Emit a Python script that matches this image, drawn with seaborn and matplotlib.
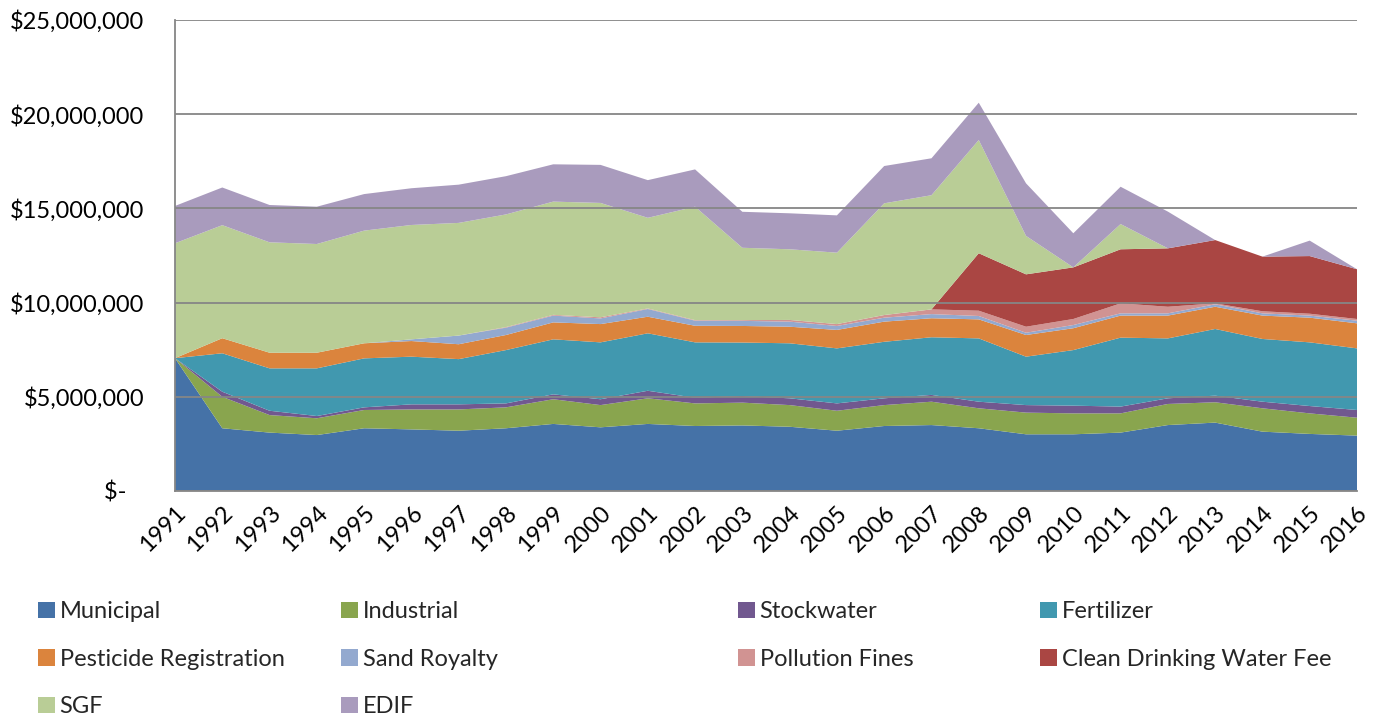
import numpy as np
import pandas as pd
import matplotlib
matplotlib.use("Agg")
import matplotlib.pyplot as plt
import matplotlib.ticker as mticker
from matplotlib.patches import Patch
import seaborn as sns

years = list(range(1991, 2017))

municipal = [7.05, 3.33, 3.10, 2.97, 3.33, 3.27, 3.20, 3.33, 3.56, 3.38, 3.56, 3.45, 3.48,
             3.41, 3.20, 3.45, 3.50, 3.33, 3.01, 3.01, 3.10, 3.50, 3.63, 3.15, 3.03, 2.94]
industrial = [0.00, 1.67, 0.93, 0.89, 0.97, 1.06, 1.13, 1.11, 1.31, 1.18, 1.36, 1.20, 1.21,
              1.15, 1.06, 1.11, 1.24, 1.06, 1.15, 1.11, 1.02, 1.12, 1.08, 1.24, 1.09, 0.95]
stockwater = [0.00, 0.27, 0.23, 0.12, 0.14, 0.27, 0.27, 0.21, 0.26, 0.31, 0.40, 0.30, 0.35,
              0.36, 0.39, 0.36, 0.36, 0.35, 0.40, 0.41, 0.36, 0.30, 0.35, 0.35, 0.39, 0.41]
fertilizer = [0.00, 2.04, 2.25, 2.53, 2.60, 2.53, 2.40, 2.83, 2.92, 3.02, 3.05, 2.94, 2.84,
              2.92, 2.92, 3.00, 3.06, 3.36, 2.57, 2.95, 3.66, 3.18, 3.54, 3.33, 3.38, 3.27]
pesticide = [0.00, 0.80, 0.83, 0.83, 0.80, 0.83, 0.79, 0.80, 0.90, 0.97, 0.88, 0.88, 0.88,
             0.88, 0.98, 1.07, 1.01, 1.01, 1.15, 1.16, 1.17, 1.21, 1.18, 1.24, 1.31, 1.33]
sand = [0.00, 0.00, 0.00, 0.00, 0.00, 0.09, 0.46, 0.39, 0.36, 0.30, 0.41, 0.27, 0.27,
        0.27, 0.21, 0.21, 0.22, 0.18, 0.12, 0.17, 0.12, 0.12, 0.13, 0.12, 0.11, 0.14]
pollution = [0.00, 0.00, 0.00, 0.00, 0.00, 0.00, 0.00, 0.03, 0.04, 0.06, 0.03, 0.03, 0.04,
             0.09, 0.10, 0.14, 0.25, 0.28, 0.32, 0.32, 0.53, 0.35, 0.05, 0.11, 0.10, 0.09]
clean_water = [0.00, 0.00, 0.00, 0.00, 0.00, 0.00, 0.00, 0.00, 0.00, 0.00, 0.00, 0.00, 0.00,
               0.00, 0.00, 0.00, 0.00, 3.05, 2.78, 2.74, 2.87, 3.10, 3.36, 2.90, 3.06, 2.64]
sgf = [6.10, 6.00, 5.86, 5.77, 5.98, 6.07, 5.98, 5.98, 6.01, 6.07, 4.81, 6.02, 3.84,
       3.75, 3.79, 5.93, 6.06, 6.01, 2.04, 0.00, 1.34, 0.00, 0.00, 0.00, 0.00, 0.00]
edif = [1.98, 2.00, 1.98, 1.98, 1.94, 1.95, 2.03, 2.03, 1.98, 2.02, 2.00, 1.98, 1.91,
        1.91, 1.98, 1.98, 1.96, 1.98, 2.79, 1.81, 1.98, 1.95, 0.00, 0.00, 0.82, 0.00]

labels = ["Municipal", "Industrial", "Stockwater", "Fertilizer", "Pesticide Registration",
          "Sand Royalty", "Pollution Fines", "Clean Drinking Water Fee", "SGF", "EDIF"]
colors = ["#4572A7", "#89A54E", "#71588F", "#4198AF", "#DB843D",
          "#93A9CF", "#D19392", "#AA4643", "#B9CD96", "#A99BBD"]

df = pd.DataFrame({
    "Municipal": municipal, "Industrial": industrial, "Stockwater": stockwater,
    "Fertilizer": fertilizer, "Pesticide Registration": pesticide, "Sand Royalty": sand,
    "Pollution Fines": pollution, "Clean Drinking Water Fee": clean_water,
    "SGF": sgf, "EDIF": edif,
}, index=years) * 1e6

sns.set_style("white")
plt.rcParams["font.family"] = ["Lato", "DejaVu Sans"]

fig = plt.figure(figsize=(13.96, 7.17), dpi=100)
ax = fig.add_axes([175 / 1396, 1 - 491 / 717, 1182 / 1396, 471 / 717])

ax.stackplot(df.index, [df[c].values for c in labels], colors=colors,
             edgecolor="none", linewidth=0)

ax.set_xlim(1991, 2016)
ax.set_ylim(0, 25e6)
ax.set_yticks(np.arange(0, 25e6 + 1, 5e6))
ax.yaxis.set_major_formatter(mticker.FuncFormatter(
    lambda v, p: "$-   " if v == 0 else "${:,.0f}".format(v)))
ax.set_xticks(years)
ax.set_xticklabels([str(y) for y in years], rotation=45, ha="right",
                   rotation_mode="anchor")
ax.tick_params(axis="both", length=0, labelsize=17, colors="black")
ax.tick_params(axis="y", pad=22)
ax.tick_params(axis="x", pad=8)

ax.grid(axis="y", color="#868686", linewidth=1.3)
ax.set_axisbelow(False)
for g in ax.get_ygridlines():
    g.set_zorder(0.5)
for s in ["top", "right"]:
    ax.spines[s].set_visible(False)
for s in ["left", "bottom"]:
    ax.spines[s].set_color("#868686")
    ax.spines[s].set_linewidth(1.3)

handles = [Patch(facecolor=c, edgecolor="none") for c in colors]
col_x = [29 / 1396, 332 / 1396, 729 / 1396, 1031 / 1396]
for i, x0 in enumerate(col_x):
    idx = list(range(i, len(labels), 4))
    fig.legend([handles[j] for j in idx], [labels[j] for j in idx],
               loc="upper left", bbox_to_anchor=(x0, 1 - 592 / 717),
               frameon=False, fontsize=17, handlelength=0.7, handleheight=0.7,
               handletextpad=0.2, labelspacing=1.12, borderaxespad=0)

fig.savefig("out.png", dpi=100)
